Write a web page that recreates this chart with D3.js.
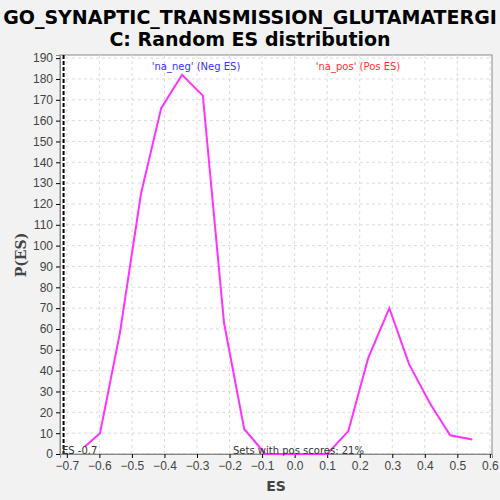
<!DOCTYPE html>
<html><head><meta charset="utf-8">
<script src="https://cdn.jsdelivr.net/npm/d3@7"></script>
<style>body{margin:0;background:#f2f2f2;font-family:"DejaVu Sans",sans-serif}</style>
</head><body><svg id="c" width="500" height="500"></svg>
<script>
const esValues = [-0.645, -0.598, -0.537, -0.472, -0.41, -0.346, -0.282, -0.217, -0.155, -0.09, -0.025, 0.035, 0.1, 0.165, 0.226, 0.291, 0.352, 0.417, 0.478, 0.546];
const density = [3.5, 10, 58, 125, 166, 182, 172, 63, 12, 0, 0, 0, 0, 11, 46, 70, 43, 24, 9, 7];
const xTicks = [-0.7, -0.6, -0.5, -0.4, -0.3, -0.2, -0.1, 0, 0.1, 0.2, 0.3, 0.4, 0.5, 0.6];
const yTicks = d3.range(0, 191, 10);
const observedES = -0.71;

const margin = { top: 55, right: 8, bottom: 46, left: 60 };
const W = 500, H = 500;
const svg = d3.select("#c");
const x = d3.scaleLinear().domain([-0.721, 0.6065]).range([margin.left, W - margin.right]);
const y = d3.scaleLinear().domain([0, 191.5]).range([H - margin.bottom, margin.top]);

svg.append("rect").attr("x", margin.left).attr("y", margin.top)
  .attr("width", W - margin.left - margin.right).attr("height", H - margin.top - margin.bottom)
  .attr("fill", "#fff").attr("stroke", "#888");

const g = svg.append("g");
g.selectAll(".gx").data(xTicks).enter().append("line")
  .attr("x1", d => x(d)).attr("x2", d => x(d)).attr("y1", margin.top).attr("y2", H - margin.bottom)
  .attr("stroke", "#ddd").attr("stroke-dasharray", "3,3");
g.selectAll(".gy").data(yTicks).enter().append("line")
  .attr("y1", d => y(d)).attr("y2", d => y(d)).attr("x1", margin.left).attr("x2", W - margin.right)
  .attr("stroke", "#ddd").attr("stroke-dasharray", "3,3");

svg.append("g").attr("transform", `translate(0,${H - margin.bottom})`)
  .call(d3.axisBottom(x).tickValues(xTicks).tickFormat(d3.format(".1f")).tickSize(4))
  .call(a => a.selectAll("text").attr("font-size", 12).attr("fill", "#444"))
  .call(a => a.select(".domain").attr("stroke", "#888"));
svg.append("g").attr("transform", `translate(${margin.left},0)`)
  .call(d3.axisLeft(y).tickValues(yTicks).tickSize(4))
  .call(a => a.selectAll("text").attr("font-size", 12).attr("fill", "#444"))
  .call(a => a.select(".domain").attr("stroke", "#888"));

svg.append("line").attr("x1", x(observedES)).attr("x2", x(observedES))
  .attr("y1", margin.top).attr("y2", H - margin.bottom)
  .attr("stroke", "#000").attr("stroke-width", 2).attr("stroke-dasharray", "4,2");

svg.append("path").datum(esValues.map((e, i) => [e, density[i]]))
  .attr("fill", "none").attr("stroke", "#ff33ff").attr("stroke-width", 2)
  .attr("d", d3.line().x(d => x(d[0])).y(d => y(d[1])));

svg.append("text").attr("x", 250).attr("y", 24).attr("text-anchor", "middle")
  .attr("font-size", 19).attr("font-weight", "bold").text("GO_SYNAPTIC_TRANSMISSION_GLUTAMATERGI");
svg.append("text").attr("x", 250).attr("y", 46).attr("text-anchor", "middle")
  .attr("font-size", 19).attr("font-weight", "bold").text("C: Random ES distribution");
svg.append("text").attr("x", 196).attr("y", 70).attr("text-anchor", "middle")
  .attr("font-size", 10).attr("fill", "#3333ff").text("'na_neg' (Neg ES)");
svg.append("text").attr("x", 358).attr("y", 70).attr("text-anchor", "middle")
  .attr("font-size", 10).attr("fill", "#ff3333").text("'na_pos' (Pos ES)");
svg.append("text").attr("x", 62).attr("y", 454).attr("font-size", 10).attr("fill", "#333").text("ES -0.7");
svg.append("text").attr("x", 233).attr("y", 454).attr("font-size", 10).attr("fill", "#333").text("Sets with pos scores: 21%");
svg.append("text").attr("x", 276).attr("y", 491).attr("text-anchor", "middle")
  .attr("font-size", 14).attr("font-weight", "bold").attr("fill", "#444").text("ES");
svg.append("text").attr("transform", "translate(26,255) rotate(-90)").attr("text-anchor", "middle")
  .attr("font-size", 14).attr("font-weight", "bold").attr("fill", "#444").attr("font-family", "DejaVu Serif").text("P(ES)");
</script></body></html>
